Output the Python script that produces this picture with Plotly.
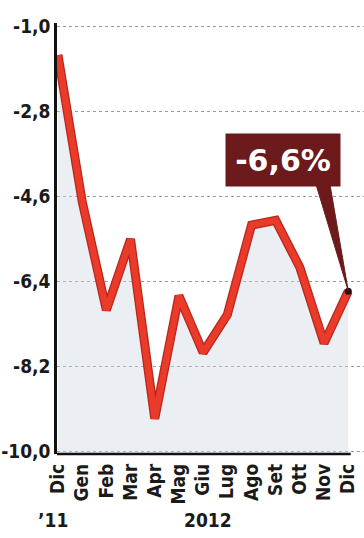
import plotly.graph_objects as go

# Monthly series, Dec 2011 - Dec 2012 (% change)
months = ["Dic", "Gen", "Feb", "Mar", "Apr", "Mag", "Giu",
          "Lug", "Ago", "Set", "Ott", "Nov", "Dic"]
values = [-1.6, -4.7, -7.0, -5.5, -9.3, -6.7, -7.9,
          -7.1, -5.2, -5.1, -6.1, -7.7, -6.6]
y_ticks = [-1.0, -2.8, -4.6, -6.4, -8.2, -10.0]
y_tick_labels = ["-1,0", "-2,8", "-4,6", "-6,4", "-8,2", "-10,0"]
year_labels = ["\u201911", "2012"]
callout_text = "-6,6%"

x_idx = list(range(len(months)))
y_min, y_max = -10.05, -0.92

RED = "#ea3a2a"
RED_EDGE = "#b8261c"
MAROON = "#6c1a1b"
FONT = "DejaVu Sans Condensed, DejaVu Sans, sans-serif"

fig = go.Figure()

# invisible baseline at the bottom of the axis for the area fill
fig.add_trace(go.Scatter(x=x_idx, y=[y_min] * len(x_idx), mode="lines",
                         line=dict(width=0), hoverinfo="skip",
                         showlegend=False))
# shaded area under the line
fig.add_trace(go.Scatter(x=x_idx, y=values, mode="lines", fill="tonexty",
                         fillcolor="rgba(205,214,226,0.40)",
                         line=dict(width=0), showlegend=False))
# darker edge and red line on top
fig.add_trace(go.Scatter(x=x_idx, y=values, mode="lines",
                         line=dict(color=RED_EDGE, width=9),
                         showlegend=False))
fig.add_trace(go.Scatter(x=x_idx, y=values, mode="lines",
                         line=dict(color=RED, width=6.5),
                         showlegend=False))

# callout wedge from the label box down to the last point
x_last, y_last = x_idx[-1], values[-1]
fig.add_shape(type="path",
              path=f"M 10.66,-4.33 L 11.24,-4.33 L {x_last},{y_last} Z",
              xref="x", yref="y", fillcolor=MAROON,
              line=dict(color=MAROON, width=1), layer="above")

# dot on the last value
fig.add_trace(go.Scatter(x=[x_last], y=[y_last], mode="markers",
                         marker=dict(color="#2a0c0c", size=7),
                         showlegend=False))

# value label box
fig.add_annotation(x=9.3, y=-3.82, xref="x", yref="y", text=callout_text,
                   showarrow=False, bgcolor=MAROON, width=112, height=50,
                   font=dict(family="DejaVu Sans, sans-serif", size=30,
                             color="white", weight="bold"),
                   xanchor="center", yanchor="middle")

# bottom axis line, ending at the last month
fig.add_shape(type="line", xref="x", yref="paper", x0=-0.04, x1=12.1,
              y0=0, y1=0, line=dict(color="#111111", width=2.5))

# year labels under the month names
fig.add_annotation(x=0, y=-0.152, xref="x", yref="paper", text=year_labels[0],
                   showarrow=False, xanchor="center", yanchor="middle",
                   xshift=-5,
                   font=dict(family=FONT, size=19, color="#1a1a1a",
                             weight="bold"))
fig.add_annotation(x=6.2, y=-0.152, xref="x", yref="paper", text=year_labels[1],
                   showarrow=False, xanchor="center", yanchor="middle",
                   font=dict(family=FONT, size=19, color="#1a1a1a",
                             weight="bold"))

fig.update_layout(
    width=364, height=538,
    margin=dict(l=57, r=0, t=23, b=84),
    paper_bgcolor="white", plot_bgcolor="white",
    showlegend=False,
    font=dict(family=FONT, color="#1a1a1a"),
    xaxis=dict(range=[-0.04, 12.65], tickmode="array", tickvals=x_idx,
               ticktext=months, tickangle=-90, showgrid=False,
               zeroline=False, showline=False, ticks="", ticklabelstandoff=5,
               tickfont=dict(family=FONT, size=19, color="#1a1a1a",
                             weight="bold"),
               fixedrange=True),
    yaxis=dict(range=[y_min, y_max], tickmode="array", tickvals=y_ticks,
               ticktext=y_tick_labels, showgrid=True, griddash="dot",
               gridcolor="#9a9a9a", gridwidth=1, zeroline=False,
               showline=True, linecolor="#111111", linewidth=2.5, ticks="",
               ticklabelstandoff=0,
               tickfont=dict(family=FONT, size=19, color="#1a1a1a",
                             weight="bold"),
               fixedrange=True),
)

fig.write_html("out.html")
